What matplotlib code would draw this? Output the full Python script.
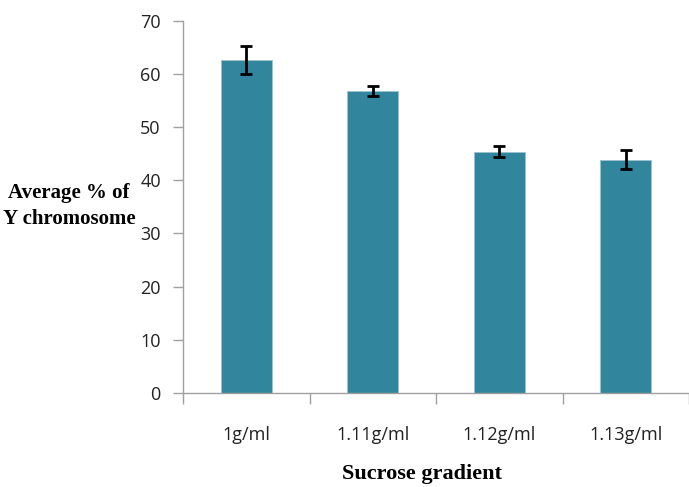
import matplotlib
matplotlib.use("Agg")
import matplotlib.pyplot as plt
import numpy as np

categories = ["1g/ml", "1.11g/ml", "1.12g/ml", "1.13g/ml"]
values = [62.6, 56.8, 45.4, 43.9]
errors = [2.7, 0.9, 1.1, 1.7]
yticks = [0, 10, 20, 30, 40, 50, 60, 70]

fig = plt.figure(figsize=(6.89, 4.87), dpi=100)
ax = fig.add_axes([183/689, 1-393/487, 1-183/689, (393-20.7)/487])

x = np.arange(len(categories))
ax.bar(x, values, width=0.4, color="#31859C", edgecolor="#9DC3CE", linewidth=0.6, zorder=2)
ax.errorbar(x, values, yerr=errors, fmt="none", ecolor="black", elinewidth=2,
            capsize=4, capthick=2, zorder=3)

ax.set_xlim(-0.5, 3.5)
ax.set_ylim(0, 70)
ax.set_yticks(yticks)
ax.set_yticklabels([str(v) for v in yticks], family="Open Sans", fontsize=13, color="#222222")
ax.set_xticks(x)
ax.set_xticklabels(categories, family="Open Sans", fontsize=13, color="#222222")
ax.set_xticks(np.arange(-0.5, 3.6, 1.0), minor=True)
ax.tick_params(axis="x", which="major", length=0, pad=24)
ax.tick_params(axis="x", which="minor", length=8, color="#A0A0A0", width=1)
ax.tick_params(axis="y", length=7, color="#A0A0A0", width=1, pad=9)

for s in ["top", "right"]:
    ax.spines[s].set_visible(False)
for s in ["left", "bottom"]:
    ax.spines[s].set_color("#A0A0A0")
    ax.spines[s].set_linewidth(1)

fig.text(422/689, 1-474/487, "Sucrose gradient", ha="center", va="center",
         family="Liberation Serif", fontweight="bold", fontsize=16)
fig.text(69/689, 1-206/487, "Average % of\nY chromosome", ha="center", va="center",
         family="Liberation Serif", fontweight="bold", fontsize=15, linespacing=1.35)

fig.savefig("out.png", dpi=100)
